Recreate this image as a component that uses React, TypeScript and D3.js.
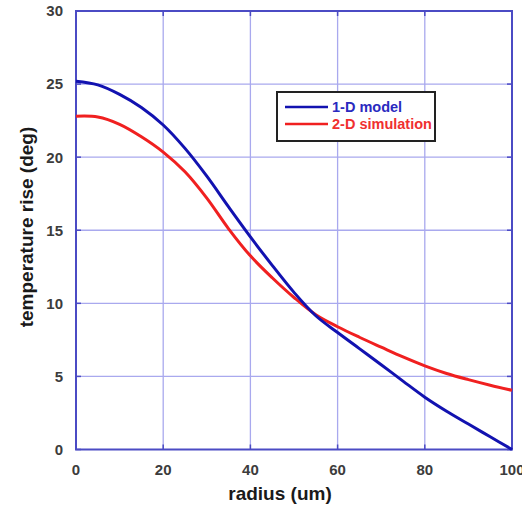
import React from "react";
import * as d3 from "d3";

const radius = [0, 5, 10, 15, 20, 25, 30, 35, 40, 45, 50, 55, 60, 65, 70, 75, 80, 85, 90, 95, 100];
const model1D = [25.2, 24.95, 24.3, 23.4, 22.2, 20.6, 18.7, 16.6, 14.55, 12.6, 10.75, 9.15, 8.0, 6.9, 5.8, 4.68, 3.58, 2.62, 1.74, 0.87, 0.0];
const sim2D = [22.8, 22.75, 22.25, 21.4, 20.35, 19.0, 17.2, 15.1, 13.25, 11.75, 10.4, 9.22, 8.4, 7.68, 7.0, 6.33, 5.72, 5.2, 4.78, 4.4, 4.05];
const xTicks = [0, 20, 40, 60, 80, 100];
const yTicks = [0, 5, 10, 15, 20, 25, 30];
const seriesNames = ["1-D model", "2-D simulation"];

const W = 522, H = 510;
const L = 76, R = 512, T = 11, B = 449.5;

export default function App() {
  const x = d3.scaleLinear().domain([0, 100]).range([L, R]);
  const y = d3.scaleLinear().domain([0, 30]).range([B, T]);
  const line = d3
    .line<number>()
    .x((_, i) => x(radius[i]))
    .y((d) => y(d))
    .curve(d3.curveCatmullRom.alpha(0.5));
  const frame = "#4b4bc4";
  const grid = "#a9a9ee";
  const font = "Liberation Sans, Arial, sans-serif";
  const blue = "#1212b0";
  const red = "#f02020";
  return (
    <svg width={W} height={H} style={{ position: "absolute", left: 0, top: 0, background: "#fff" }}>
      <rect x={0} y={0} width={W} height={H} fill="#fff" />
      {xTicks.slice(1, -1).map((t) => (
        <line key={"gx" + t} x1={x(t)} x2={x(t)} y1={T} y2={B} stroke={grid} strokeWidth={1.3} />
      ))}
      {yTicks.slice(1, -1).map((t) => (
        <line key={"gy" + t} x1={L} x2={R} y1={y(t)} y2={y(t)} stroke={grid} strokeWidth={1.3} />
      ))}
      {xTicks.map((t) => (
        <g key={"tx" + t}>
          <line x1={x(t)} x2={x(t)} y1={B} y2={B - 5} stroke={frame} strokeWidth={1.5} />
          <line x1={x(t)} x2={x(t)} y1={T} y2={T + 5} stroke={frame} strokeWidth={1.5} />
          <text x={x(t)} y={475} textAnchor="middle" fontFamily={font} fontWeight="bold" fontSize={15} fill="#3c3c3c">
            {t}
          </text>
        </g>
      ))}
      {yTicks.map((t) => (
        <g key={"ty" + t}>
          <line x1={L} x2={L + 5} y1={y(t)} y2={y(t)} stroke={frame} strokeWidth={1.5} />
          <line x1={R} x2={R - 5} y1={y(t)} y2={y(t)} stroke={frame} strokeWidth={1.5} />
          <text x={63} y={y(t)} dy="0.36em" textAnchor="end" fontFamily={font} fontWeight="bold" fontSize={15} fill="#3c3c3c">
            {t}
          </text>
        </g>
      ))}
      <rect x={L} y={T} width={R - L} height={B - T} fill="none" stroke={frame} strokeWidth={2} />
      <path d={line(sim2D) || ""} fill="none" stroke={red} strokeWidth={3} strokeLinejoin="round" />
      <path d={line(model1D) || ""} fill="none" stroke={blue} strokeWidth={3} strokeLinejoin="round" />
      <g>
        <rect x={277} y={92} width={158} height={49} fill="#fff" stroke="#222" strokeWidth={2} />
        <line x1={285} x2={328} y1={107} y2={107} stroke={blue} strokeWidth={2.5} />
        <line x1={285} x2={328} y1={124} y2={124} stroke={red} strokeWidth={2.5} />
        <text x={332} y={107} dy="0.36em" fontFamily={font} fontWeight="bold" fontSize={14.5} fill="#2a2ac0">
          {seriesNames[0]}
        </text>
        <text x={332} y={124} dy="0.36em" fontFamily={font} fontWeight="bold" fontSize={14.5} fill="#f03030">
          {seriesNames[1]}
        </text>
      </g>
      <text x={280} y={500} textAnchor="middle" fontFamily={font} fontWeight="bold" fontSize={19} fill="#1a1a1a">
        radius (um)
      </text>
      <text
        transform={`translate(33, 227) rotate(-90)`}
        textAnchor="middle"
        fontFamily={font}
        fontWeight="bold"
        fontSize={19}
        fill="#1a1a1a"
      >
        temperature rise (deg)
      </text>
    </svg>
  );
}
